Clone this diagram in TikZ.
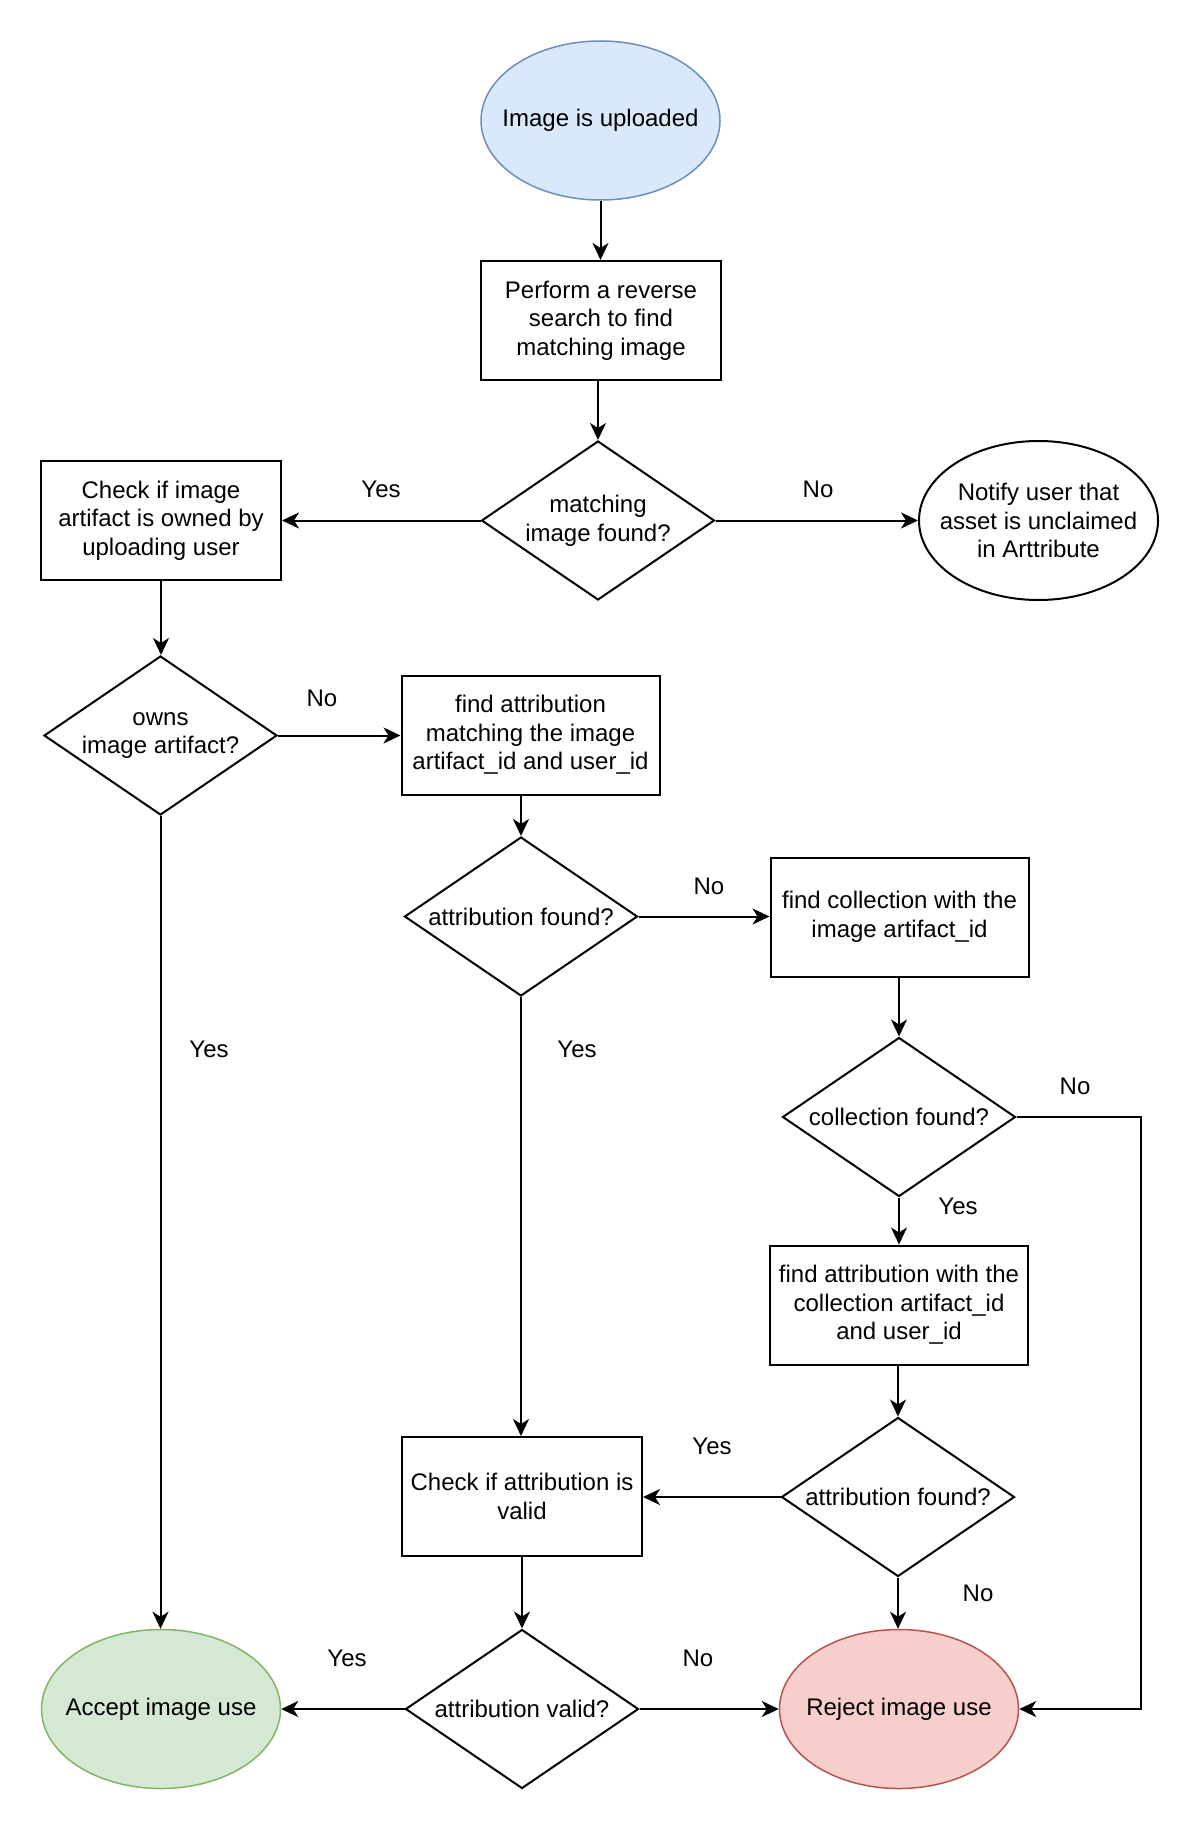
\documentclass[tikz,border=0pt]{standalone}
\usepackage{fontspec}
\setmainfont{Liberation Sans}
\usetikzlibrary{shapes.geometric,arrows.meta}
\definecolor{bluefill}{HTML}{DAE8FC}
\definecolor{bluestroke}{HTML}{6C8EBF}
\definecolor{greenfill}{HTML}{D5E8D4}
\definecolor{greenstroke}{HTML}{82B366}
\definecolor{redfill}{HTML}{F8CECC}
\definecolor{redstroke}{HTML}{B85450}
\begin{document}
\begin{tikzpicture}[x=1pt,y=-1pt,
  every node/.style={font=\fontsize{24}{28.6}\selectfont},
  box/.style={draw, line width=2pt, rectangle, minimum width=240pt, minimum height=119pt, inner sep=0pt, align=center},
  wbox/.style={box, minimum width=258pt},
  oval/.style={draw, line width=1.5pt, ellipse, minimum width=239pt, minimum height=159pt, inner sep=0pt},
  dia/.style={draw, line width=2pt, diamond, minimum width=233pt, minimum height=159pt, inner sep=0pt, shape aspect=1.465},
  dtext/.style={align=center},
  conn/.style={line width=2pt, -{Stealth[length=17pt,width=16pt,inset=5pt]}},
  lbl/.style={inner sep=0pt}]
\useasboundingbox (0,0) rectangle (1200,1830);
% nodes
\node[oval, fill=bluefill, draw=bluestroke, label={[dtext]center:Image is uploaded}] (up) at (600.5,120.5) {};
\node[box] (rev) at (601,320.5) {Perform a reverse\\search to find\\matching image};
\node[dia, label={[dtext]center:matching\\image found?}] (d1) at (598,520.5) {};
\node[box] (own) at (161,520.5) {Check if image\\artifact is owned by\\uploading user};
\node[oval, draw=black, fill=white, line width=2pt, label={[dtext]center:Notify user that\\asset is unclaimed\\in Arttribute}] (notify) at (1038.5,520.5) {};
\node[dia, label={[dtext]center:owns\\image artifact?}] (d2) at (160.5,735.5) {};
\node[wbox] (fam) at (530.5,735) {find attribution\\matching the image\\artifact\_id and user\_id};
\node[dia, label={[dtext]center:attribution found?}] (d3) at (521,916.5) {};
\node[wbox] (fcol) at (899.5,917) {find collection with the\\image artifact\_id};
\node[dia, label={[dtext]center:collection found?}] (d4) at (899,1117) {};
\node[wbox] (fcat) at (899,1305) {find attribution with the\\collection artifact\_id\\and user\_id};
\node[dia, label={[dtext]center:attribution found?}] (d5) at (898,1497) {};
\node[box] (chk) at (522,1496.5) {Check if attribution is\\valid};
\node[dia, label={[dtext]center:attribution valid?}] (d6) at (522,1709) {};
\node[oval, fill=greenfill, draw=greenstroke, label={[dtext]center:Accept image use}] (acc) at (161,1709) {};
\node[oval, fill=redfill, draw=redstroke, label={[dtext]center:Reject image use}] (rej) at (899,1709) {};
\coordinate (c1) at (1140.5,1117);
\coordinate (c2) at (1140.5,1709);
% connectors
\draw[conn] (up.south) -- (up.south |- rev.north);
\draw[conn] (rev.south -| d1.north) -- (d1.north);
\draw[conn] (d1.west) -- (own.east);
\draw[conn] (d1.east) -- (notify.west);
\draw[conn] (own.south) -- (own.south |- d2.north);
\draw[conn] (d2.east) -- (fam.west |- d2.east);
\draw[conn] (d2.south) -- (d2.south |- acc.north);
\draw[conn] (fam.south -| d3.north) -- (d3.north);
\draw[conn] (d3.east) -- (fcol.west |- d3.east);
\draw[conn] (d3.south) -- (d3.south |- chk.north);
\draw[conn] (fcol.south -| d4.north) -- (d4.north);
\draw[conn] (d4.east) -- (c1) -- (c2) -- (rej.east);
\draw[conn] (d4.south) -- (d4.south |- fcat.north);
\draw[conn] (fcat.south -| d5.north) -- (d5.north);
\draw[conn] (d5.west) -- (chk.east |- d5.west);
\draw[conn] (d5.south) -- (d5.south |- rej.north);
\draw[conn] (chk.south -| d6.north) -- (d6.north);
\draw[conn] (d6.west) -- (acc.east);
\draw[conn] (d6.east) -- (rej.west);
% labels
\node[lbl] (l1) at (381,489) {Yes};
\node[lbl] (l2) at (818,489) {No};
\node[lbl] (l3) at (322,698) {No};
\node[lbl] (l4) at (209,1049) {Yes};
\node[lbl] (l5) at (709,886) {No};
\node[lbl] (l6) at (577,1049) {Yes};
\node[lbl] (l7) at (1075,1086) {No};
\node[lbl] (l8) at (958,1206) {Yes};
\node[lbl] (l9) at (712,1446) {Yes};
\node[lbl] (l10) at (978,1593) {No};
\node[lbl] (l11) at (347,1658) {Yes};
\node[lbl] (l12) at (698,1658) {No};
\end{tikzpicture}
\end{document}
